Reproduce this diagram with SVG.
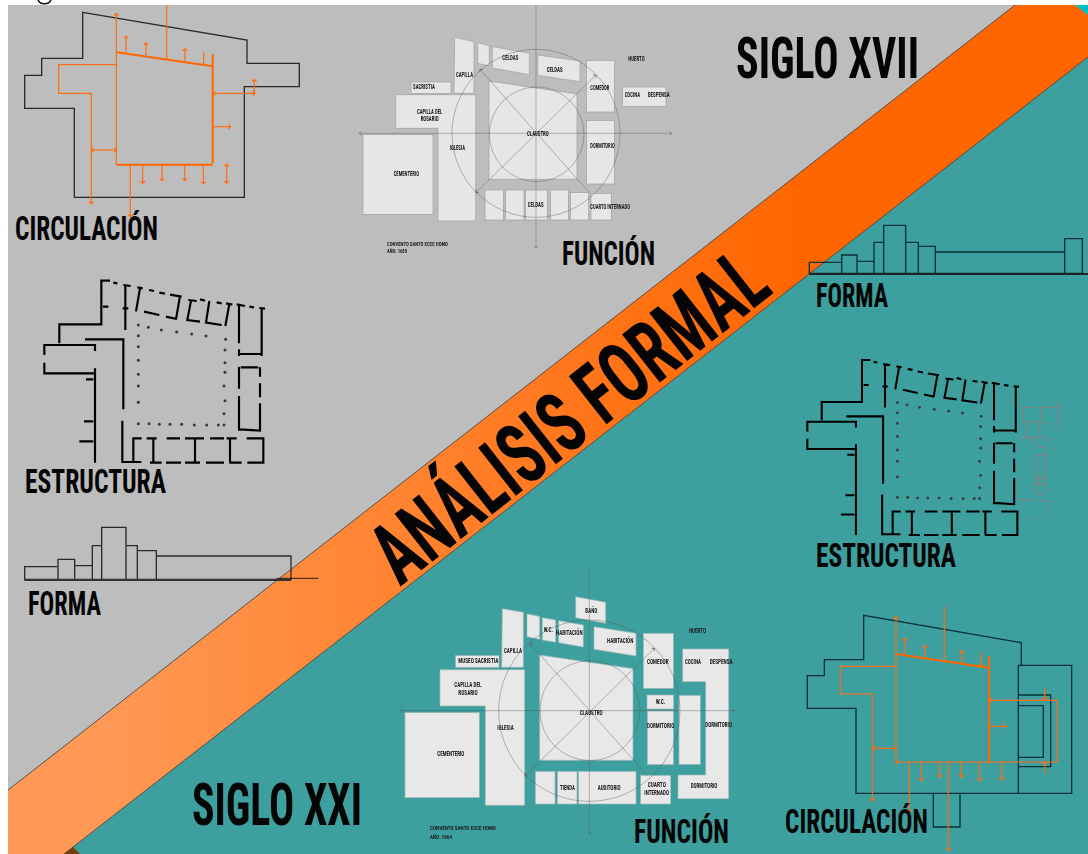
<svg xmlns="http://www.w3.org/2000/svg" xmlns:xlink="http://www.w3.org/1999/xlink" width="1088" height="854" viewBox="0 0 1088 854">
<style>
.t{font-family:"Liberation Sans Narrow","Roboto Condensed","Liberation Sans",sans-serif;font-weight:700;fill:#050505}
.s{font-family:"Liberation Sans Narrow","Roboto Condensed","Liberation Sans",sans-serif;font-weight:700;font-size:20px;fill:#1c1c1c}
.c{font-size:17px}
.room{fill:#e6e6e6;stroke:#9f9f9f;stroke-width:2}
.roomb{fill:#e8e8e8;stroke:#9fb8b8;stroke-width:2}
.ax{fill:none;stroke:#555;stroke-opacity:.5;stroke-width:2.4}
.or{fill:none;stroke:#ff6c12;stroke-width:3.6}
.orb{fill:none;stroke:#ff6600;stroke-width:6}
.ou{fill:none;stroke:#2a2a2a;stroke-width:4}
.ouf{fill:none;stroke:#083336;stroke-width:4}
.w{fill:none;stroke:#000;stroke-width:6.5}
.f{fill:none;stroke:#2a2a2a;stroke-width:4}
.d{fill:#3a3a3a}
.g{fill:none;stroke:#8f8080;stroke-width:3}
</style>
<defs>
<filter id="b" x="-5%" y="-5%" width="110%" height="110%"><feGaussianBlur stdDeviation=".9"/></filter>
<linearGradient id="band" gradientUnits="userSpaceOnUse" x1="100" y1="0" x2="800" y2="0"><stop offset="0" stop-color="#ff9955"/><stop offset="1" stop-color="#ff6600"/></linearGradient>
<marker id="a" viewBox="-10 -10 20 20" markerWidth="20" markerHeight="20" markerUnits="userSpaceOnUse" orient="auto-start-reverse"><path d="M-7,-7 L0,0 L-7,7" fill="none" stroke="#ff6c12" stroke-width="3.4"/></marker>
<marker id="x" viewBox="-8 -8 16 16" markerWidth="16" markerHeight="16" markerUnits="userSpaceOnUse" orient="auto-start-reverse"><path d="M-6,-6 L0,0 L-6,6" fill="none" stroke="#666" stroke-width="2.4"/></marker>
<g id="walls">
<path class="w" d="M330,32H304V163H178V220M133,255V225H285V243M133,278V310H285M255,208H370V418M367,452V576H424M285,295V578M258,328H280M252,454H280M238,514H280M340,38L352,40M370,45L392,48M376,48V180M412,52L428,55M420,55L408,124M447,60L462,63M478,68L495,71M510,74L545,80M540,78L528,148M432,125L478,135M498,140L530,147M565,90L590,93M573,92L562,150L600,155M600,88L615,92M628,93L618,158L665,165M650,97L665,100M678,100L697,104M688,102L676,168M710,103L735,108M717,105V220M748,110L762,112M778,114L795,116M785,116V228M717,238V258M717,252H782M785,228V258M717,290V356M722,292H775M780,292V320M780,340V382M780,400V482L720,478M717,378V482M425,505H400V576M440,505H470M460,505V578M450,578H485M498,578H543M500,505H540M555,505H612M585,505V576M555,578H600M618,578H672M630,505H672M690,505V576M680,505H710M688,578H725M740,505H790V578H742M309,110H325M368,115H385"/>
<g class="d"><circle cx="415" cy="165" r="4.5"/><circle cx="445" cy="172" r="4.5"/><circle cx="484" cy="180" r="4.5"/><circle cx="530" cy="186" r="4.5"/><circle cx="575" cy="192" r="4.5"/><circle cx="618" cy="198" r="4.5"/><circle cx="415" cy="197" r="4.5"/><circle cx="415" cy="230" r="4.5"/><circle cx="415" cy="271" r="4.5"/><circle cx="415" cy="313" r="4.5"/><circle cx="415" cy="348" r="4.5"/><circle cx="415" cy="397" r="4.5"/><circle cx="677" cy="208" r="4.5"/><circle cx="675" cy="240" r="4.5"/><circle cx="675" cy="278" r="4.5"/><circle cx="675" cy="307" r="4.5"/><circle cx="672" cy="348" r="4.5"/><circle cx="675" cy="392" r="4.5"/><circle cx="672" cy="431" r="4.5"/><circle cx="672" cy="465" r="4.5"/><circle cx="655" cy="465" r="4.5"/><circle cx="620" cy="465" r="4.5"/><circle cx="583" cy="465" r="4.5"/><circle cx="545" cy="463" r="4.5"/><circle cx="510" cy="463" r="4.5"/><circle cx="478" cy="463" r="4.5"/><circle cx="447" cy="461" r="4.5"/><circle cx="415" cy="461" r="4.5"/></g>
</g>
</defs>

<rect width="1088" height="854" fill="#fff"/>
<path d="M38,0C40,5 49,5 51,0" fill="none" stroke="#111" stroke-width="1.6"/>
<g id="fondo">
<rect x="8" y="5" width="1080" height="849" fill="#bdbdbd"/>
<polygon points="1088,57 1088,854 64,854" fill="#3e9f9f"/>
<polygon points="1015,5 1075,5 1088,15 1088,57 64,854 8,854 8,790" fill="url(#band)"/>
<path d="M8,790L1015,5M64,854L1088,57" fill="none" stroke="#3a3a3a" stroke-width=".8"/>
<polygon points="1075,5 1088,5 1088,15" fill="#00bcc4"/>
<polygon points="64,854 73,847 80,854" fill="#7a3b0a"/>
</g>

<g id="titulos">
<text class="t" x="736" y="78" font-size="58" textLength="183" lengthAdjust="spacingAndGlyphs">SIGLO XVII</text>
<text class="t" x="192" y="825" font-size="60" textLength="170" lengthAdjust="spacingAndGlyphs">SIGLO XXI</text>
<text class="t" font-size="86" textLength="477" lengthAdjust="spacingAndGlyphs" transform="translate(400,587) rotate(-38.2)">ANÁLISIS FORMAL</text>
</g>

<g id="circulacion-xvii" transform="scale(.33333)">
<path class="ou" d="M248,37L741,120V190H898V260H733V592H223V325H74V226H125V175H248Z"/>
<path class="orb" d="M350,157L638,199M638,162V490M350,494H638"/>
<path class="or" d="M349,494V40" marker-end="url(#a)"/>
<path class="or" d="M500,15V178"/>
<path class="or" d="M349,194H176V280H274V612" marker-end="url(#a)"/>
<path class="or" d="M274,450H349" marker-start="url(#a)" marker-end="url(#a)"/>
<path class="or" d="M638,280H765" marker-start="url(#a)" marker-end="url(#a)"/>
<path class="or" d="M763,285V238" marker-end="url(#a)"/>
<path class="or" d="M640,380H692" marker-end="url(#a)"/>
<path class="or" d="M391,494V650" marker-end="url(#a)"/>
<path class="or" d="M378,158V108" marker-end="url(#a)"/>
<path class="or" d="M438,165V128" marker-end="url(#a)"/>
<path class="or" d="M555,182V146" marker-end="url(#a)"/>
<path class="or" d="M611,195V155"/>
<path class="or" d="M428,494V550" marker-end="url(#a)"/>
<path class="or" d="M486,494V542" marker-end="url(#a)"/>
<path class="or" d="M554,494V542" marker-end="url(#a)"/>
<path class="or" d="M610,494V552" marker-end="url(#a)"/>
<path class="or" d="M680,492V550" marker-start="url(#a)" marker-end="url(#a)"/>
</g>
<text class="t" x="15" y="240" font-size="34" textLength="143" lengthAdjust="spacingAndGlyphs">CIRCULACIÓN</text>

<g id="funcion-xvii" transform="translate(350,0) scale(.33333)" filter="url(#b)">
<polygon class="room" points="314,112 372,125 372,280 312,280"/>
<polygon class="room" points="383,128 418,137 418,198 383,190"/>
<polygon class="room" points="427,140 538,160 538,224 427,204"/>
<polygon class="room" points="563,165 690,183 690,245 563,226"/>
<rect class="room" x="709" y="181" width="84" height="155"/>
<rect class="room" x="817" y="261" width="131" height="59"/>
<rect class="room" x="709" y="362" width="84" height="190"/>
<rect class="room" x="183" y="246" width="120" height="34"/>
<polygon class="room" points="137,284 377,284 377,663 264,663 264,385 137,385"/>
<rect class="room" x="39" y="404" width="210" height="239"/>
<polygon class="room" points="417,243 681,282 681,538 417,538"/>
<rect class="room" x="405" y="570" width="55" height="90"/>
<rect class="room" x="467" y="570" width="55" height="90"/>
<rect class="room" x="527" y="570" width="65" height="90"/>
<rect class="room" x="601" y="570" width="54" height="90"/>
<rect class="room" x="661" y="578" width="55" height="82"/>
<rect class="room" x="723" y="580" width="61" height="80"/>
<circle class="ax" cx="558" cy="400" r="252"/>
<circle class="ax" cx="560" cy="403" r="142"/>
<path class="ax" d="M558,15V745" marker-end="url(#x)"/>
<path class="ax" d="M28,400H965" marker-start="url(#x)" marker-end="url(#x)"/>
<path class="ax" d="M390,208L718,578" marker-start="url(#x)"/>
<path class="ax" d="M378,578L738,225" marker-start="url(#x)" marker-end="url(#x)"/>
<g>
<text class="s" x="457" y="180" textLength="48" lengthAdjust="spacingAndGlyphs">CELDAS</text>
<text class="s" x="590" y="215" textLength="48" lengthAdjust="spacingAndGlyphs">CELDAS</text>
<text class="s" x="318" y="231" textLength="51" lengthAdjust="spacingAndGlyphs">CAPILLA</text>
<text class="s" x="189" y="267" textLength="66" lengthAdjust="spacingAndGlyphs">SACRISTIA</text>
<text class="s" x="721" y="269" textLength="57" lengthAdjust="spacingAndGlyphs">COMEDOR</text>
<text class="s" x="835" y="183" textLength="49" lengthAdjust="spacingAndGlyphs">HUERTO</text>
<text class="s" x="824" y="292" textLength="46" lengthAdjust="spacingAndGlyphs">COCINA</text>
<text class="s" x="893" y="292" textLength="66" lengthAdjust="spacingAndGlyphs">DESPENSA</text>
<text class="s" x="201" y="342" textLength="76" lengthAdjust="spacingAndGlyphs">CAPILLA DEL</text>
<text class="s" x="212" y="363" textLength="54" lengthAdjust="spacingAndGlyphs">ROSARIO</text>
<text class="s" x="299" y="451" textLength="46" lengthAdjust="spacingAndGlyphs">IGLESIA</text>
<text class="s" x="531" y="407" textLength="65" lengthAdjust="spacingAndGlyphs">CLAUSTRO</text>
<text class="s" x="721" y="445" textLength="73" lengthAdjust="spacingAndGlyphs">DORMITORIO</text>
<text class="s" x="131" y="528" textLength="76" lengthAdjust="spacingAndGlyphs">CEMENTERIO</text>
<text class="s" x="533" y="620" textLength="48" lengthAdjust="spacingAndGlyphs">CELDAS</text>
<text class="s" x="721" y="627" textLength="119" lengthAdjust="spacingAndGlyphs">CUARTO INTERNADO</text>
<text class="s c" x="111" y="737" textLength="183" lengthAdjust="spacingAndGlyphs">CONVENTO SANTO ECCE HOMO</text>
<text class="s c" x="111" y="759" textLength="60" lengthAdjust="spacingAndGlyphs">AÑO: 1685</text>
</g>
</g>
<text class="t" x="562" y="265" font-size="33" textLength="93" lengthAdjust="spacingAndGlyphs">FUNCIÓN</text>

<g id="estructura-xvii" transform="translate(0,270) scale(.33333)"><use href="#walls" xlink:href="#walls"/></g>
<text class="t" x="25" y="493" font-size="34" textLength="141" lengthAdjust="spacingAndGlyphs">ESTRUCTURA</text>

<g id="forma-xvii" transform="translate(0,270) scale(.33333)">
<path class="f" d="M74,928V890H174V928ZM174,928V868H224V928ZM224,928V887H277V928ZM277,928V827H305V928ZM305,928V772H378V928ZM378,928V827H412V928ZM412,928V842H469V928ZM469,928V858H873V928Z"/>
<path d="M73,930H873" stroke="#333" stroke-width="6" fill="none"/>
<path d="M830,925H955" stroke="#222" stroke-width="3" fill="none"/>
</g>
<text class="t" x="28" y="615" font-size="33" textLength="73" lengthAdjust="spacingAndGlyphs">FORMA</text>

<g id="forma-xxi" transform="translate(790,210) scale(.33333)">
<path class="ouf" d="M58,190V157H155V190ZM155,190V135H201V190ZM201,190V154H252V190ZM252,190V97H281V190ZM281,190V46H347V190ZM347,190V97H385V190ZM385,190V109H436V190ZM436,190V126H824V190ZM824,190V86H877V190Z"/>
<path d="M58,192H894" stroke="#222" stroke-width="6" fill="none"/>
</g>
<text class="t" x="816" y="307" font-size="33" textLength="72" lengthAdjust="spacingAndGlyphs">FORMA</text>

<g id="estructura-xxi">
<g transform="translate(764.8,349.7) scale(.3197,.3205)"><use href="#walls" xlink:href="#walls"/></g>
<g transform="translate(790,210) scale(.33333)">
<path class="g" d="M735,592H697V635L775,638M752,630V592H805M808,572V645M712,640V690M690,682H735M745,640V672M730,682H770V700M735,685V705M740,712H770M738,735H765M740,735L735,850L760,855M768,712L765,850M735,805H765M735,820H765M745,795V830M680,868L735,872M750,872L782,876M700,925H708M730,925H736M766,925H772M770,895V905M790,660H796M806,660H812M788,685V690M788,715V722M786,760V766M786,785V790M784,835V842"/>
</g>
</g>
<text class="t" x="816" y="567" font-size="34" textLength="140" lengthAdjust="spacingAndGlyphs">ESTRUCTURA</text>

<g id="funcion-xxi" transform="translate(390,570) scale(.33333)" filter="url(#b)">
<polygon class="roomb" points="557,80 647,97 647,160 557,143"/>
<polygon class="roomb" points="337,116 400,127 400,292 335,292"/>
<polygon class="roomb" points="411,132 449,139 449,208 411,200"/>
<polygon class="roomb" points="457,143 497,150 497,217 457,210"/>
<polygon class="roomb" points="506,152 580,165 580,231 506,218"/>
<polygon class="roomb" points="612,170 738,190 738,258 612,238"/>
<rect class="roomb" x="760" y="190" width="90" height="165"/>
<polygon class="roomb" points="878,237 1016,237 1016,686 864,686 864,615 947,615 947,335 878,335"/>
<rect class="roomb" x="771" y="375" width="80" height="42"/>
<rect class="roomb" x="772" y="423" width="78" height="161"/>
<rect class="roomb" x="867" y="376" width="64" height="207"/>
<rect class="roomb" x="197" y="257" width="130" height="35"/>
<polygon class="roomb" points="150,299 404,299 404,706 286,706 286,408 150,408"/>
<rect class="roomb" x="45" y="428" width="223" height="255"/>
<polygon class="roomb" points="449,255 729,296 729,571 449,571"/>
<rect class="roomb" x="436" y="604" width="59" height="98"/>
<rect class="roomb" x="502" y="604" width="59" height="98"/>
<rect class="roomb" x="566" y="604" width="172" height="98"/>
<rect class="roomb" x="752" y="616" width="90" height="86"/>
<circle class="ax" cx="598" cy="422" r="272"/>
<circle class="ax" cx="600" cy="422" r="150"/>
<path class="ax" d="M598,0V790" marker-end="url(#x)"/>
<path class="ax" d="M32,422H1032" marker-start="url(#x)" marker-end="url(#x)"/>
<path class="ax" d="M420,220L770,615" marker-start="url(#x)"/>
<path class="ax" d="M405,618L793,235" marker-start="url(#x)" marker-end="url(#x)"/>
<g>
<text class="s" x="586" y="128" textLength="36" lengthAdjust="spacingAndGlyphs">BAÑO</text>
<text class="s" x="461" y="185" textLength="28" lengthAdjust="spacingAndGlyphs">W.C.</text>
<text class="s" x="498" y="194" textLength="80" lengthAdjust="spacingAndGlyphs">HABITACIÓN</text>
<text class="s" x="651" y="218" textLength="79" lengthAdjust="spacingAndGlyphs">HABITACIÓN</text>
<text class="s" x="342" y="250" textLength="54" lengthAdjust="spacingAndGlyphs">CAPILLA</text>
<text class="s" x="205" y="279" textLength="120" lengthAdjust="spacingAndGlyphs">MUSEO SACRISTIA</text>
<text class="s" x="771" y="283" textLength="65" lengthAdjust="spacingAndGlyphs">COMEDOR</text>
<text class="s" x="897" y="190" textLength="51" lengthAdjust="spacingAndGlyphs">HUERTO</text>
<text class="s" x="885" y="281" textLength="48" lengthAdjust="spacingAndGlyphs">COCINA</text>
<text class="s" x="959" y="281" textLength="69" lengthAdjust="spacingAndGlyphs">DESPENSA</text>
<text class="s" x="193" y="350" textLength="81" lengthAdjust="spacingAndGlyphs">CAPILLA DEL</text>
<text class="s" x="205" y="375" textLength="58" lengthAdjust="spacingAndGlyphs">ROSARIO</text>
<text class="s" x="797" y="401" textLength="29" lengthAdjust="spacingAndGlyphs">W.C.</text>
<text class="s" x="569" y="434" textLength="69" lengthAdjust="spacingAndGlyphs">CLAUSTRO</text>
<text class="s" x="771" y="473" textLength="82" lengthAdjust="spacingAndGlyphs">DORMITORIO</text>
<text class="s" x="946" y="472" textLength="80" lengthAdjust="spacingAndGlyphs">DORMITORIO</text>
<text class="s" x="322" y="479" textLength="49" lengthAdjust="spacingAndGlyphs">IGLESIA</text>
<text class="s" x="142" y="559" textLength="81" lengthAdjust="spacingAndGlyphs">CEMENTERIO</text>
<text class="s" x="773" y="650" textLength="55" lengthAdjust="spacingAndGlyphs">CUARTO</text>
<text class="s" x="763" y="675" textLength="74" lengthAdjust="spacingAndGlyphs">INTERNADO</text>
<text class="s" x="510" y="659" textLength="45" lengthAdjust="spacingAndGlyphs">TIENDA</text>
<text class="s" x="623" y="659" textLength="69" lengthAdjust="spacingAndGlyphs">AUDITORIO</text>
<text class="s" x="902" y="655" textLength="80" lengthAdjust="spacingAndGlyphs">DORMITORIO</text>
<text class="s c" x="120" y="779" textLength="198" lengthAdjust="spacingAndGlyphs">CONVENTO SANTO ECCE HOMO</text>
<text class="s c" x="120" y="806" textLength="66" lengthAdjust="spacingAndGlyphs">AÑO: 1964</text>
</g>
</g>
<text class="t" x="634" y="843" font-size="33" textLength="95" lengthAdjust="spacingAndGlyphs">FUNCIÓN</text>

<g id="circulacion-xxi" transform="translate(770,600) scale(.33333)">
<path class="ouf" d="M754,195V128L281,46V179H163V227H112V325H258V580H905V196H745V580M490,580V681H570V580M745,285H842V500H745M745,317H820V472H745"/>
<path class="orb" d="M378,162L657,203M657,168V490"/>
<path class="or" d="M378,486H862V301H657" marker-start="url(#a)" marker-end="url(#a)"/>
<path class="or" d="M378,486V50" marker-end="url(#a)"/>
<path class="or" d="M523,20V182"/>
<path class="or" d="M378,199H211V282H307V603" marker-end="url(#a)"/>
<path class="or" d="M307,445H378" marker-start="url(#a)" marker-end="url(#a)"/>
<path class="or" d="M660,379H708" marker-end="url(#a)"/>
<path class="or" d="M418,486V637" marker-end="url(#a)"/>
<path class="or" d="M535,486V752" marker-end="url(#a)"/>
<path class="or" d="M405,165V115" marker-end="url(#a)"/>
<path class="or" d="M464,172V135" marker-end="url(#a)"/>
<path class="or" d="M576,188V152" marker-end="url(#a)"/>
<path class="or" d="M632,160V200" marker-end="url(#a)"/>
<path class="or" d="M454,486V542" marker-end="url(#a)"/>
<path class="or" d="M509,486V532" marker-end="url(#a)"/>
<path class="or" d="M574,486V532" marker-end="url(#a)"/>
<path class="or" d="M629,486V542" marker-end="url(#a)"/>
<path class="or" d="M695,486V540" marker-end="url(#a)"/>
<path class="or" d="M824,265V301" marker-end="url(#a)"/>
<path class="or" d="M824,522V486" marker-end="url(#a)"/>
</g>
<text class="t" x="785" y="833" font-size="34" textLength="143" lengthAdjust="spacingAndGlyphs">CIRCULACIÓN</text>
</svg>
